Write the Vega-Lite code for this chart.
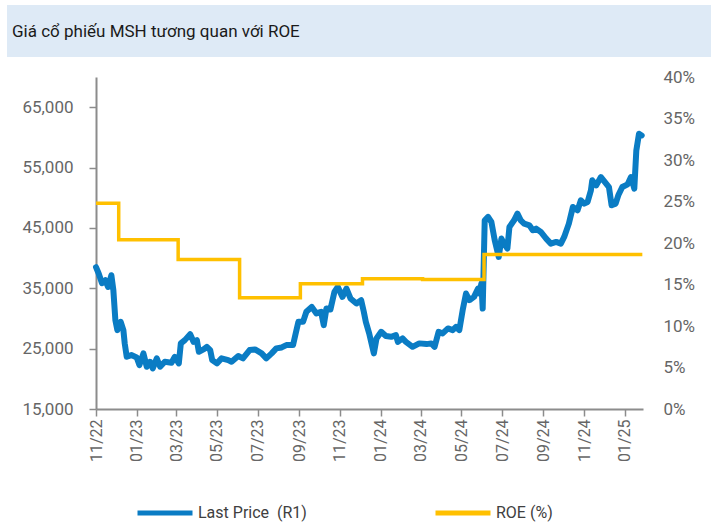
{
  "$schema": "https://vega.github.io/schema/vega-lite/v6.json",
  "padding": {"left": 7, "top": 5, "right": 0, "bottom": 0},
  "background": "white",
  "config": {
    "font": "Roboto",
    "view": {"stroke": null},
    "axis": {"labelFont": "Roboto", "labelFontSize": 17, "labelColor": "#666666", "grid": false, "title": null}
  },
  "datasets": {
    "price": [
      {"date": "2022-11-01", "price": 38500},
      {"date": "2022-11-05", "price": 37450},
      {"date": "2022-11-10", "price": 35840},
      {"date": "2022-11-15", "price": 36340},
      {"date": "2022-11-19", "price": 35230},
      {"date": "2022-11-24", "price": 37160},
      {"date": "2022-11-27", "price": 34680},
      {"date": "2022-11-30", "price": 29720},
      {"date": "2022-12-03", "price": 28070},
      {"date": "2022-12-08", "price": 29440},
      {"date": "2022-12-12", "price": 28070},
      {"date": "2022-12-14", "price": 25870},
      {"date": "2022-12-17", "price": 23650},
      {"date": "2022-12-24", "price": 23930},
      {"date": "2023-01-01", "price": 23550},
      {"date": "2023-01-05", "price": 22280},
      {"date": "2023-01-11", "price": 24210},
      {"date": "2023-01-16", "price": 22000},
      {"date": "2023-01-21", "price": 22820},
      {"date": "2023-01-25", "price": 21730},
      {"date": "2023-01-31", "price": 23390},
      {"date": "2023-02-05", "price": 22000},
      {"date": "2023-02-12", "price": 22820},
      {"date": "2023-02-22", "price": 22660},
      {"date": "2023-02-27", "price": 23650},
      {"date": "2023-03-05", "price": 22560},
      {"date": "2023-03-08", "price": 25870},
      {"date": "2023-03-14", "price": 26410},
      {"date": "2023-03-22", "price": 27400},
      {"date": "2023-03-27", "price": 26130},
      {"date": "2023-04-01", "price": 26410},
      {"date": "2023-04-04", "price": 24480},
      {"date": "2023-04-11", "price": 24870},
      {"date": "2023-04-16", "price": 25300},
      {"date": "2023-04-21", "price": 24760},
      {"date": "2023-04-24", "price": 23100},
      {"date": "2023-05-01", "price": 22560},
      {"date": "2023-05-08", "price": 23390},
      {"date": "2023-05-18", "price": 23100},
      {"date": "2023-05-23", "price": 22820},
      {"date": "2023-06-02", "price": 23770},
      {"date": "2023-06-09", "price": 23390},
      {"date": "2023-06-19", "price": 24760},
      {"date": "2023-06-27", "price": 24870},
      {"date": "2023-07-07", "price": 24210},
      {"date": "2023-07-14", "price": 23390},
      {"date": "2023-07-22", "price": 24210},
      {"date": "2023-07-29", "price": 25040},
      {"date": "2023-08-06", "price": 25200},
      {"date": "2023-08-13", "price": 25590},
      {"date": "2023-08-23", "price": 25590},
      {"date": "2023-08-27", "price": 27520},
      {"date": "2023-08-31", "price": 29440},
      {"date": "2023-09-07", "price": 29440},
      {"date": "2023-09-12", "price": 31100},
      {"date": "2023-09-20", "price": 31920},
      {"date": "2023-09-27", "price": 30830},
      {"date": "2023-10-04", "price": 31100},
      {"date": "2023-10-08", "price": 28890},
      {"date": "2023-10-12", "price": 31650},
      {"date": "2023-10-18", "price": 31490},
      {"date": "2023-10-24", "price": 34400},
      {"date": "2023-10-29", "price": 35230},
      {"date": "2023-11-05", "price": 33570},
      {"date": "2023-11-11", "price": 34960},
      {"date": "2023-11-17", "price": 33310},
      {"date": "2023-11-26", "price": 32480},
      {"date": "2023-12-03", "price": 33030},
      {"date": "2023-12-07", "price": 31100},
      {"date": "2023-12-10", "price": 29440},
      {"date": "2023-12-15", "price": 27520},
      {"date": "2023-12-22", "price": 24210},
      {"date": "2023-12-26", "price": 26690},
      {"date": "2024-01-02", "price": 27790},
      {"date": "2024-01-09", "price": 27080},
      {"date": "2024-01-17", "price": 26960},
      {"date": "2024-01-24", "price": 27240},
      {"date": "2024-01-27", "price": 26130},
      {"date": "2024-02-03", "price": 26690},
      {"date": "2024-02-08", "price": 26130},
      {"date": "2024-02-18", "price": 25300},
      {"date": "2024-02-28", "price": 25870},
      {"date": "2024-03-10", "price": 25750},
      {"date": "2024-03-17", "price": 25870},
      {"date": "2024-03-22", "price": 25300},
      {"date": "2024-03-28", "price": 27790},
      {"date": "2024-04-03", "price": 27520},
      {"date": "2024-04-11", "price": 28350},
      {"date": "2024-04-18", "price": 28070},
      {"date": "2024-04-23", "price": 28610},
      {"date": "2024-04-28", "price": 28070},
      {"date": "2024-05-03", "price": 31370},
      {"date": "2024-05-08", "price": 34130},
      {"date": "2024-05-13", "price": 33030},
      {"date": "2024-05-20", "price": 33570},
      {"date": "2024-05-26", "price": 34960},
      {"date": "2024-05-28", "price": 34130},
      {"date": "2024-05-31", "price": 35780},
      {"date": "2024-06-02", "price": 31650},
      {"date": "2024-06-05", "price": 46260},
      {"date": "2024-06-10", "price": 46810},
      {"date": "2024-06-15", "price": 45980},
      {"date": "2024-06-20", "price": 42950},
      {"date": "2024-06-26", "price": 40190},
      {"date": "2024-06-30", "price": 43230},
      {"date": "2024-07-04", "price": 42400},
      {"date": "2024-07-09", "price": 41580},
      {"date": "2024-07-12", "price": 45150},
      {"date": "2024-07-19", "price": 46260},
      {"date": "2024-07-24", "price": 47370},
      {"date": "2024-07-29", "price": 46260},
      {"date": "2024-08-03", "price": 45710},
      {"date": "2024-08-11", "price": 45430},
      {"date": "2024-08-16", "price": 44610},
      {"date": "2024-08-21", "price": 44890},
      {"date": "2024-08-28", "price": 44330},
      {"date": "2024-09-05", "price": 43230},
      {"date": "2024-09-12", "price": 42400},
      {"date": "2024-09-20", "price": 42680},
      {"date": "2024-09-27", "price": 42400},
      {"date": "2024-10-02", "price": 43500},
      {"date": "2024-10-09", "price": 45710},
      {"date": "2024-10-15", "price": 48460},
      {"date": "2024-10-22", "price": 47910},
      {"date": "2024-10-27", "price": 49570},
      {"date": "2024-11-01", "price": 49020},
      {"date": "2024-11-06", "price": 49290},
      {"date": "2024-11-11", "price": 51230},
      {"date": "2024-11-13", "price": 52880},
      {"date": "2024-11-19", "price": 52050},
      {"date": "2024-11-26", "price": 53430},
      {"date": "2024-12-02", "price": 52600},
      {"date": "2024-12-08", "price": 51770},
      {"date": "2024-12-12", "price": 48740},
      {"date": "2024-12-18", "price": 49020},
      {"date": "2024-12-22", "price": 50400},
      {"date": "2024-12-28", "price": 51770},
      {"date": "2025-01-05", "price": 52220},
      {"date": "2025-01-10", "price": 53430},
      {"date": "2025-01-15", "price": 51500},
      {"date": "2025-01-18", "price": 57840},
      {"date": "2025-01-22", "price": 60600},
      {"date": "2025-01-26", "price": 60320}
    ],
    "roe": [
      {"date": "2022-11-01", "roe": 0.248},
      {"date": "2022-12-05", "roe": 0.204},
      {"date": "2023-03-04", "roe": 0.180},
      {"date": "2023-06-04", "roe": 0.134},
      {"date": "2023-09-03", "roe": 0.151},
      {"date": "2023-12-05", "roe": 0.157},
      {"date": "2024-03-04", "roe": 0.156},
      {"date": "2024-06-04", "roe": 0.186},
      {"date": "2025-01-27", "roe": 0.186}
    ],
    "header": [{"title": "Giá cổ phiếu MSH tương quan với ROE"}],
    "blank": [{"k": ""}]
  },
  "bounds": "flush",
  "spacing": 20,
  "resolve": {"scale": {"color": "independent"}, "legend": {"color": "independent"}},
  "vconcat": [
    {
      "width": 704,
      "height": 52,
      "view": {"fill": "#DEEAF6", "stroke": null},
      "data": {"name": "header"},
      "mark": {"type": "text", "align": "left", "baseline": "middle", "font": "Roboto", "fontSize": 17, "color": "#1A1A1A"},
      "encoding": {
        "text": {"field": "title"},
        "x": {"value": 5},
        "y": {"value": 27}
      }
    },
    {
      "bounds": "flush",
      "spacing": 88,
      "resolve": {"scale": {"color": "independent"}, "legend": {"color": "independent"}},
      "hconcat": [
        {
          "width": 1,
          "height": 1,
          "data": {"name": "blank"},
          "mark": {"type": "text"},
          "encoding": {"text": {"field": "k"}}
        },
        {
          "width": 547,
          "height": 332,
          "layer": [
            {
              "data": {"name": "price"},
              "mark": {"type": "line", "strokeWidth": 6, "strokeJoin": "round", "strokeCap": "round"},
              "encoding": {
                "x": {
                  "field": "date", "type": "temporal",
                  "scale": {"type": "utc", "domain": [{"year": 2022, "month": 11, "date": 1, "utc": true}, {"year": 2025, "month": 1, "date": 28, "utc": true}], "nice": false},
                  "axis": {"format": "%m/%y", "labelAngle": 270, "tickCount": {"interval": "month", "step": 2}, "labelFlush": false, "labelOverlap": false, "domainColor": "#8C8C8C", "domainWidth": 2, "tickColor": "#8C8C8C", "tickSize": 7, "tickWidth": 1.5, "labelPadding": 3, "labelFontSize": 16}
                },
                "y": {
                  "field": "price", "type": "quantitative",
                  "scale": {"domain": [15000, 70000], "nice": false, "zero": false},
                  "axis": {"orient": "left", "values": [15000, 25000, 35000, 45000, 55000, 65000], "format": ",d", "domainColor": "#8C8C8C", "domainWidth": 2, "tickColor": "#8C8C8C", "tickSize": 7, "tickWidth": 1.5, "labelPadding": 16}
                },
                "color": {
                  "datum": "Last Price\u00a0 (R1)",
                  "scale": {"domain": ["Last Price\u00a0 (R1)", "ROE (%)"], "range": ["#0A7CC4", "#FFC000"]},
                  "legend": {"orient": "none", "legendX": 39, "legendY": 406, "direction": "horizontal", "title": null, "symbolType": "stroke", "symbolSize": 3025, "symbolStrokeWidth": 5, "labelFont": "Roboto", "labelFontSize": 16, "labelColor": "#404040", "labelOffset": 3, "columnPadding": 118}
                }
              }
            },
            {
              "data": {"name": "roe"},
              "mark": {"type": "line", "strokeWidth": 3.5, "interpolate": "step-after"},
              "encoding": {
                "x": {"field": "date", "type": "temporal"},
                "y": {
                  "field": "roe", "type": "quantitative",
                  "scale": {"domain": [0, 0.4], "nice": false},
                  "axis": {"orient": "right", "values": [0, 0.05, 0.1, 0.15, 0.2, 0.25, 0.3, 0.35, 0.4], "format": ".0%", "domain": false, "ticks": false, "labelPadding": 20}
                },
                "color": {"datum": "ROE (%)"}
              }
            }
          ],
          "resolve": {"scale": {"y": "independent"}}
        }
      ]
    }
  ]
}
